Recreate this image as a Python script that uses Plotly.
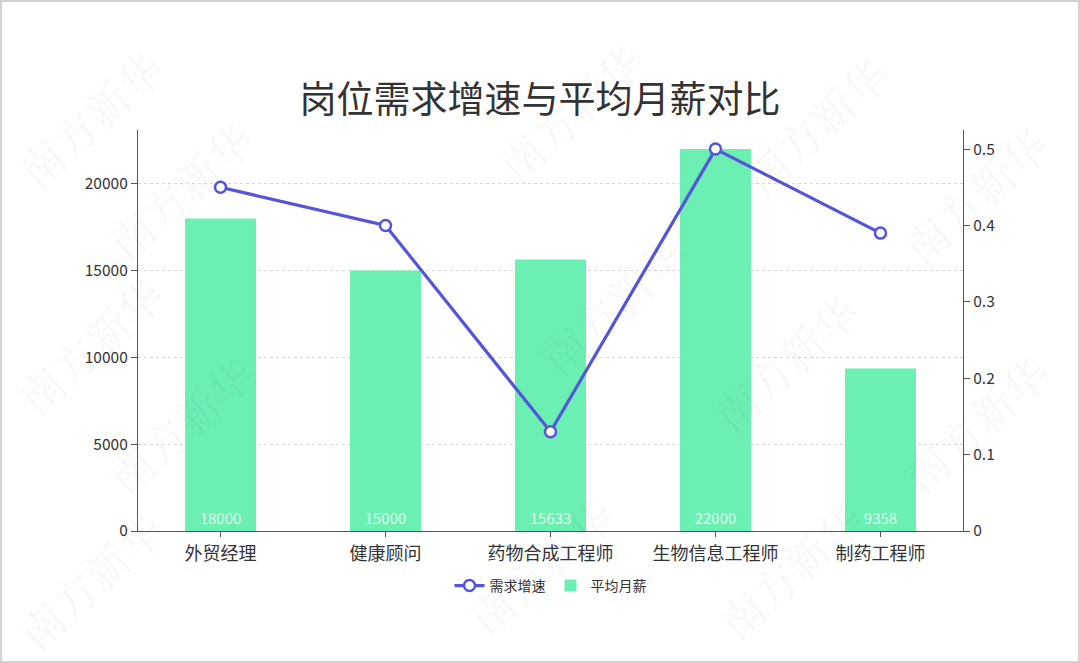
import plotly.graph_objects as go

# Job categories and their metrics
categories = ["外贸经理", "健康顾问", "药物合成工程师", "生物信息工程师", "制药工程师"]
avg_salary = [18000, 15000, 15633, 22000, 9358]       # 平均月薪 (元)
demand_growth = [0.45, 0.40, 0.13, 0.50, 0.39]        # 需求增速

salary_ticks = [0, 5000, 10000, 15000, 20000]
salary_tick_text = ["0", "5000", "10000", "15000", "20000"]
growth_ticks = [0, 0.1, 0.2, 0.3, 0.4, 0.5]
growth_tick_text = ["0", "0.1", "0.2", "0.3", "0.4", "0.5"]

W, H = 1080, 663
M_L, M_R, M_T, M_B = 138, 117, 130, 132
PW, PH = W - M_L - M_R, H - M_T - M_B

FONT = "Noto Sans CJK SC, Noto Sans, sans-serif"
BAR_COLOR = "#6cefb3"
LINE_COLOR = "#5454dc"
AXIS_COLOR = "#555555"


def px_to_paper(px, py):
    """Convert page pixel position to paper coordinates."""
    return (px - M_L) / PW, 1 - (py - M_T) / PH


fig = go.Figure()

fig.add_trace(go.Scatter(
    x=categories, y=demand_growth, name="需求增速", yaxis="y2",
    mode="lines+markers",
    line=dict(color=LINE_COLOR, width=3.2),
    marker=dict(size=11, color="white", line=dict(color=LINE_COLOR, width=2.5)),
))

fig.add_trace(go.Bar(
    x=categories, y=avg_salary, name="平均月薪",
    marker=dict(color=BAR_COLOR, line=dict(width=0)),
    text=[str(v) for v in avg_salary],
    textposition="inside", insidetextanchor="start",
    textfont=dict(color="rgba(255,255,255,0.8)", size=15, family=FONT),
    textangle=0,
))

# Diagonal watermark text
wm_centers = [(90, 118), (180, 190), (570, 112), (815, 125), (975, 195),
              (90, 345), (612, 305), (785, 362), (180, 425), (975, 423),
              (90, 580), (540, 565), (790, 570)]
annotations = []
for cx, cy in wm_centers:
    ax_, ay_ = px_to_paper(cx, cy)
    annotations.append(dict(
        x=ax_, y=ay_, xref="paper", yref="paper", text="南方新华",
        showarrow=False, textangle=-42,
        font=dict(size=44, color="rgba(0,0,0,0.045)",
                  family="Noto Serif CJK SC, Noto Sans CJK SC, serif"),
        xanchor="center", yanchor="middle",
    ))

# Outer frame
fx0, fy1 = px_to_paper(1, 1)
fx1, fy0 = px_to_paper(W - 1, H - 1)

fig.update_layout(
    width=W, height=H,
    margin=dict(l=M_L, r=M_R, t=M_T, b=M_B),
    paper_bgcolor="white", plot_bgcolor="white",
    font=dict(family=FONT, color="#333333", size=15),
    title=dict(text="岗位需求增速与平均月薪对比", x=0.5, xanchor="center",
               y=1 - 100 / H, yanchor="middle", yref="container",
               font=dict(size=37, color="#333333", family=FONT)),
    bargap=0.57,
    showlegend=True,
    legend=dict(orientation="h", x=0.5, xanchor="center",
                y=px_to_paper(0, 586)[1], yanchor="middle",
                font=dict(size=14, color="#333333", family=FONT),
                itemwidth=30, traceorder="normal"),
    xaxis=dict(
        type="category", showline=True, linecolor=AXIS_COLOR, linewidth=1.3,
        ticks="outside", ticklen=5, tickcolor=AXIS_COLOR, showgrid=False,
        tickfont=dict(size=18, color="#333333", family=FONT),
        ticklabelstandoff=1, zeroline=False,
    ),
    yaxis=dict(
        range=[0, 23100], tickvals=salary_ticks, ticktext=salary_tick_text,
        showline=True, linecolor=AXIS_COLOR, linewidth=1.3,
        ticks="outside", ticklen=6, tickcolor=AXIS_COLOR,
        showgrid=True, gridcolor="#d8d8d8", griddash="3px,3px", gridwidth=1,
        zeroline=False, tickfont=dict(size=15.5, color="#333333", family=FONT),
    ),
    yaxis2=dict(
        range=[0, 0.525], tickvals=growth_ticks, ticktext=growth_tick_text,
        overlaying="y", side="right",
        showline=True, linecolor=AXIS_COLOR, linewidth=1.3,
        ticks="outside", ticklen=6, tickcolor=AXIS_COLOR,
        showgrid=False, zeroline=False,
        tickfont=dict(size=15.5, color="#333333", family=FONT),
    ),
    annotations=annotations,
    shapes=[dict(type="rect", xref="paper", yref="paper",
                 x0=fx0, x1=fx1, y0=fy0, y1=fy1,
                 line=dict(color="#d2d2d2", width=2), layer="above")],
)

fig.write_html("out.html")
